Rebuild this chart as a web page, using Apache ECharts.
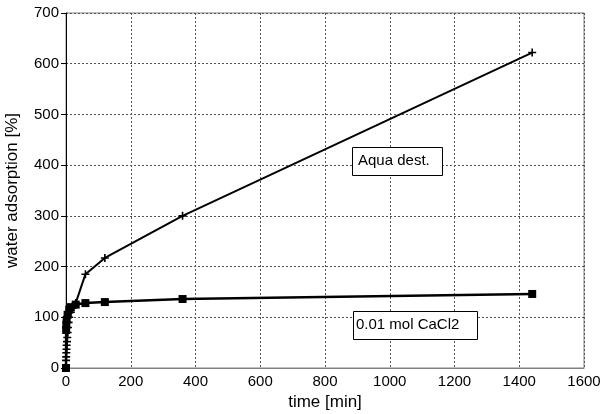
<!DOCTYPE html>
<html><head><meta charset="utf-8">
<script src="https://cdn.jsdelivr.net/npm/echarts@6/dist/echarts.min.js"></script>
<style>html,body{margin:0;padding:0;background:#fff}#c{width:602px;height:414px}</style>
</head><body><div id="c"></div>
<script>
const aquaTime = [0, 0.25, 0.5, 1, 1.5, 2, 3, 4, 5, 6, 8, 10, 15, 20, 30, 60, 120, 360, 1440];
const aquaVal  = [0, 15, 22, 30, 37, 45, 52, 60, 70, 80, 90, 100, 110, 118, 128, 185, 217, 300, 622];
const cacl2Time = [0, 0.5, 1, 2, 5, 10, 15, 30, 60, 120, 360, 1440];
const cacl2Val  = [0, 75, 85, 95, 105, 115, 120, 125, 128, 130, 136, 146];
const xTicks = [0, 200, 400, 600, 800, 1000, 1200, 1400, 1600];
const yTicks = [0, 100, 200, 300, 400, 500, 600, 700];
const labelAqua = 'Aqua dest.';
const labelCacl2 = '0.01 mol CaCl2';

const font = 'Liberation Sans, Arial, Helvetica, sans-serif';
const plus = 'path://M4,0H6V4H10V6H6V10H4V6H0V4H4Z';
const chart = echarts.init(document.getElementById('c'));
chart.setOption({
  animation: false,
  backgroundColor: '#fff',
  grid: { left: 66, right: 18, top: 13, bottom: 46, show: true, borderColor: '#808080', borderWidth: 1,
    containLabel: false, outerBoundsMode: 'none' },
  xAxis: {
    type: 'value', min: xTicks[0], max: xTicks[xTicks.length - 1], interval: 200,
    name: 'time [min]', nameLocation: 'middle', nameGap: 26,
    nameTextStyle: { fontFamily: font, fontSize: 17, color: '#000' },
    axisLine: { lineStyle: { color: '#808080', width: 1 } },
    axisTick: { show: false },
    axisLabel: { fontFamily: font, fontSize: 15, color: '#000', margin: 6, formatter: v => String(v) },
    splitLine: { lineStyle: { color: '#555', type: [2, 2], width: 1 } }
  },
  yAxis: {
    type: 'value', min: yTicks[0], max: yTicks[yTicks.length - 1], interval: 100,
    name: 'water adsorption [%]', nameLocation: 'middle', nameGap: 45,
    nameTextStyle: { fontFamily: font, fontSize: 17, color: '#000' },
    axisLine: { show: true, lineStyle: { color: '#000', width: 1 } },
    axisTick: { show: true, length: 5, lineStyle: { color: '#000' } },
    axisLabel: { fontFamily: font, fontSize: 15, color: '#000', margin: 7 },
    splitLine: { lineStyle: { color: '#555', type: [2, 2], width: 1 } }
  },
  series: [
    {
      name: labelAqua, type: 'line',
      data: aquaTime.map((t, i) => [t, aquaVal[i]]),
      symbol: plus, symbolSize: 8, showAllSymbol: true,
      lineStyle: { color: '#000', width: 2 },
      itemStyle: { color: '#000' }
    },
    {
      name: labelCacl2, type: 'line',
      data: cacl2Time.map((t, i) => [t, cacl2Val[i]]),
      symbol: 'rect', symbolSize: 8, showAllSymbol: true,
      lineStyle: { color: '#000', width: 2.5 },
      itemStyle: { color: '#000' }
    }
  ],
  graphic: [
    { type: 'rect', left: 352, top: 147, z: 100,
      shape: { width: 90, height: 28 },
      style: { fill: '#fff', stroke: '#000', lineWidth: 1 } },
    { type: 'text', left: 358, top: 153, z: 101,
      style: { text: labelAqua, font: '15px ' + font, fill: '#000' } },
    { type: 'rect', left: 353, top: 311, z: 100,
      shape: { width: 124, height: 28 },
      style: { fill: '#fff', stroke: '#000', lineWidth: 1 } },
    { type: 'text', left: 356, top: 317, z: 101,
      style: { text: labelCacl2, font: '15px ' + font, fill: '#000' } }
  ]
});
</script></body></html>
